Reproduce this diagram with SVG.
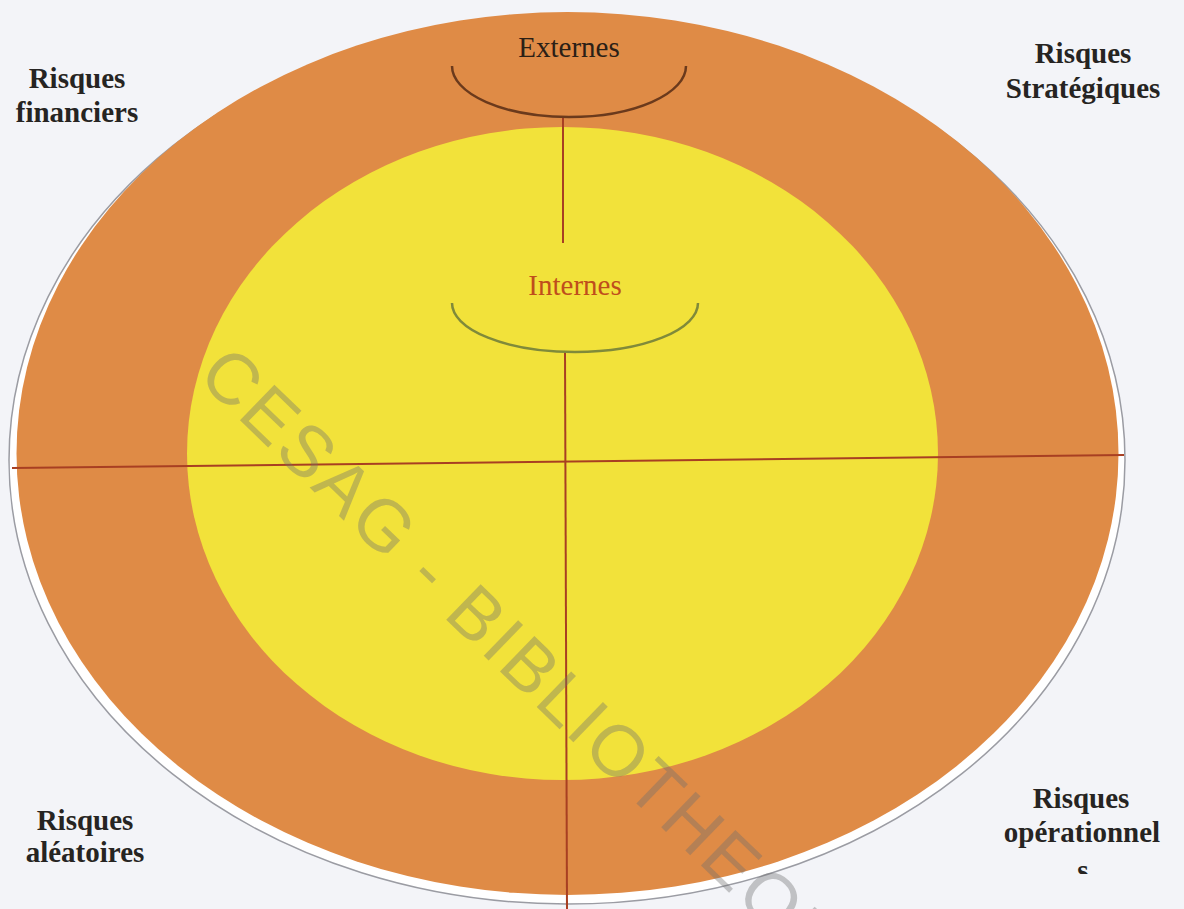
<svg xmlns="http://www.w3.org/2000/svg" width="1184" height="909" viewBox="0 0 1184 909">
  <style>
    .corner { font-family: "Liberation Serif", "Times New Roman", serif; font-weight: bold; font-size: 29px; fill: #262422; text-anchor: middle; }
    .ring { font-family: "Liberation Serif", "Times New Roman", serif; font-size: 29px; text-anchor: middle; }
    .axis { stroke: #a83f22; stroke-width: 2; fill: none; }
    .mark { font-family: "Liberation Sans", Arial, sans-serif; font-size: 72px; fill: #6e6e6e; fill-opacity: 0.38; }
  </style>
  <defs>
    <clipPath id="clipS">
      <rect x="1040" y="850" width="90" height="24"/>
    </clipPath>
  </defs>

  <!-- page -->
  <rect width="1184" height="909" fill="#f3f4f8"/>

  <!-- rings -->
  <g id="outer-ring">
    <ellipse cx="567" cy="460" rx="558" ry="444" fill="#ffffff" stroke="#9b9ca3" stroke-width="1.5"/>
    <ellipse cx="567.5" cy="453.5" rx="551" ry="441.5" fill="#df8b46"/>
  </g>
  <g id="inner-ring">
    <ellipse cx="562.5" cy="453.5" rx="375.5" ry="326.5" fill="#f2e23a"/>
  </g>

  <!-- axes and brackets -->
  <g id="connectors">
    <line class="axis" x1="12" y1="468" x2="1124" y2="455"/>
    <line class="axis" x1="563" y1="117" x2="563" y2="243"/>
    <line class="axis" x1="565" y1="352" x2="567" y2="909"/>
    <path d="M452,66 A117,51 0 0 0 686,66" fill="none" stroke="#6b3a1c" stroke-width="2.5"/>
    <path d="M452,303 A123,49 0 0 0 698,303" fill="none" stroke="#808a3a" stroke-width="2.5"/>
  </g>

  <!-- ring labels -->
  <g id="externes">
    <text class="ring" x="569" y="57" fill="#2b2016">Externes</text>
  </g>
  <g id="internes">
    <text class="ring" x="575" y="295" fill="#bf4e1c">Internes</text>
  </g>

  <!-- corner labels -->
  <g id="risques-financiers">
    <text class="corner" x="77" y="88">Risques</text>
    <text class="corner" x="77" y="122">financiers</text>
  </g>
  <g id="risques-strategiques">
    <text class="corner" x="1083" y="63">Risques</text>
    <text class="corner" x="1083" y="98">Stratégiques</text>
  </g>
  <g id="risques-aleatoires">
    <text class="corner" x="85" y="830">Risques</text>
    <text class="corner" x="85" y="862">aléatoires</text>
  </g>
  <g id="risques-operationnels">
    <text class="corner" x="1081" y="808">Risques</text>
    <text class="corner" x="1082" y="842">opérationnel</text>
    <text class="corner" x="1083" y="880" clip-path="url(#clipS)">s</text>
  </g>

  <!-- library stamp -->
  <text class="mark" transform="translate(196,378) rotate(44)" textLength="910" lengthAdjust="spacing">CESAG - BIBLIOTHEQUE</text>
</svg>
